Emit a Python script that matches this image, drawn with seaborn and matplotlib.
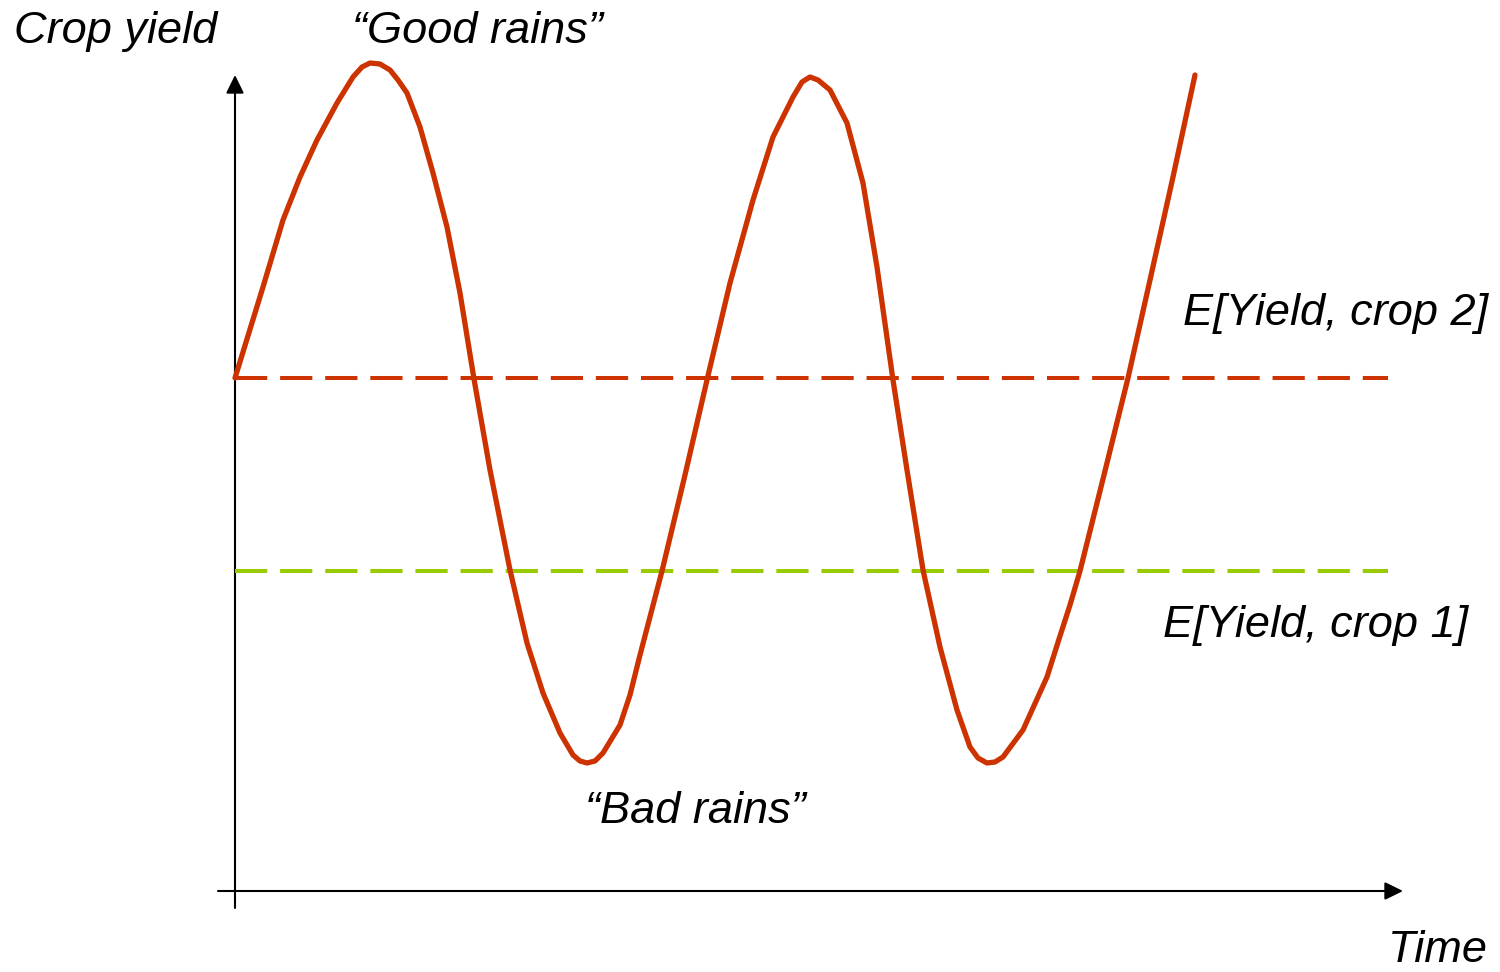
import matplotlib
matplotlib.use("Agg")
import matplotlib.pyplot as plt
import seaborn as sns
import pandas as pd

# -------------------------------
# Data
# -------------------------------
temps = [0.00, 0.28, 0.48, 0.65, 0.82, 1.02, 1.18, 1.27, 1.35, 1.45, 1.55, 1.63, 1.72, 1.85,
         1.98, 2.12, 2.25, 2.39, 2.55, 2.75, 2.92, 3.08, 3.25, 3.38, 3.45, 3.52, 3.60, 3.68,
         3.85, 3.95, 4.05, 4.27, 4.50, 4.72, 4.95, 5.18, 5.38, 5.58, 5.67, 5.75, 5.83, 5.95,
         6.12, 6.28, 6.42, 6.58, 6.72, 6.88, 7.05, 7.22, 7.35, 7.43, 7.52, 7.60, 7.68, 7.88,
         8.12, 8.25, 8.35, 8.45, 8.69, 8.93, 9.15, 9.38, 9.60]
rendement = [5.13, 6.04, 6.71, 7.14, 7.51, 7.88, 8.14, 8.24, 8.28, 8.27, 8.21, 8.11, 7.98, 7.64,
             7.18, 6.64, 5.98, 5.12, 4.21, 3.21, 2.48, 1.98, 1.58, 1.36, 1.30, 1.28, 1.30, 1.38,
             1.66, 1.96, 2.36, 3.20, 4.16, 5.11, 6.08, 6.91, 7.54, 7.94, 8.09, 8.14, 8.11, 8.01,
             7.68, 7.08, 6.24, 5.11, 4.21, 3.21, 2.44, 1.81, 1.44, 1.33, 1.28, 1.29, 1.34, 1.61,
             2.14, 2.55, 2.86, 3.20, 4.16, 5.13, 6.11, 7.14, 8.16]
esperance_crop2 = 5.13
esperance_crop1 = 3.20
fin_moyennes = 11.53

rouge = "#CC3300"
vert = "#99CC00"

df = pd.DataFrame({"temps": temps, "rendement": rendement})

# -------------------------------
# Figure
# -------------------------------
sns.set_style("white")
plt.rcParams["font.family"] = ["Liberation Sans", "DejaVu Sans"]

fig = plt.figure(figsize=(15, 9.72), dpi=100)
ax = fig.add_axes([0, 0, 1, 1])
ax.set_xlim(-2.35, 12.65)
ax.set_ylim(-0.81, 8.91)

# moyennes (tirets)
ax.plot([0, fin_moyennes], [esperance_crop1, esperance_crop1], color=vert, lw=2.9,
        linestyle=(0, (8, 3.2)), dash_capstyle="butt", zorder=2)
ax.plot([0, fin_moyennes], [esperance_crop2, esperance_crop2], color=rouge, lw=2.9,
        linestyle=(0, (8, 3.2)), dash_capstyle="butt", zorder=2)

# courbe du rendement
sns.lineplot(data=df, x="temps", y="rendement", color=rouge, lw=3.8, sort=False,
             ax=ax, zorder=3)
ax.lines[-1].set_solid_joinstyle("round")
ax.axis("off")

# axes avec flèches
fleche = dict(arrowstyle="-|>,head_length=0.55,head_width=0.27", color="black",
              lw=1.5, shrinkA=0, shrinkB=0, mutation_scale=20)
ax.annotate("", xy=(0, 8.16), xytext=(0, -0.17), arrowprops=fleche, zorder=1)
ax.annotate("", xy=(11.68, 0), xytext=(-0.17, 0), arrowprops=fleche, zorder=1)

# textes
style = dict(fontsize=32.5, fontstyle="italic", color="black", va="baseline", ha="left")
ax.text(-2.21, 8.48, "Crop yield", **style)
ax.text(1.17, 8.48, "\u201cGood rains\u201d", **style)
ax.text(3.50, 0.68, "\u201cBad rains\u201d", **style)
ax.text(9.48, 5.66, "E[Yield, crop 2]", **style)
ax.text(9.28, 2.54, "E[Yield, crop 1]", **style)
ax.text(11.53, -0.71, "Time", **style)

plt.savefig("out.png", dpi=100)
